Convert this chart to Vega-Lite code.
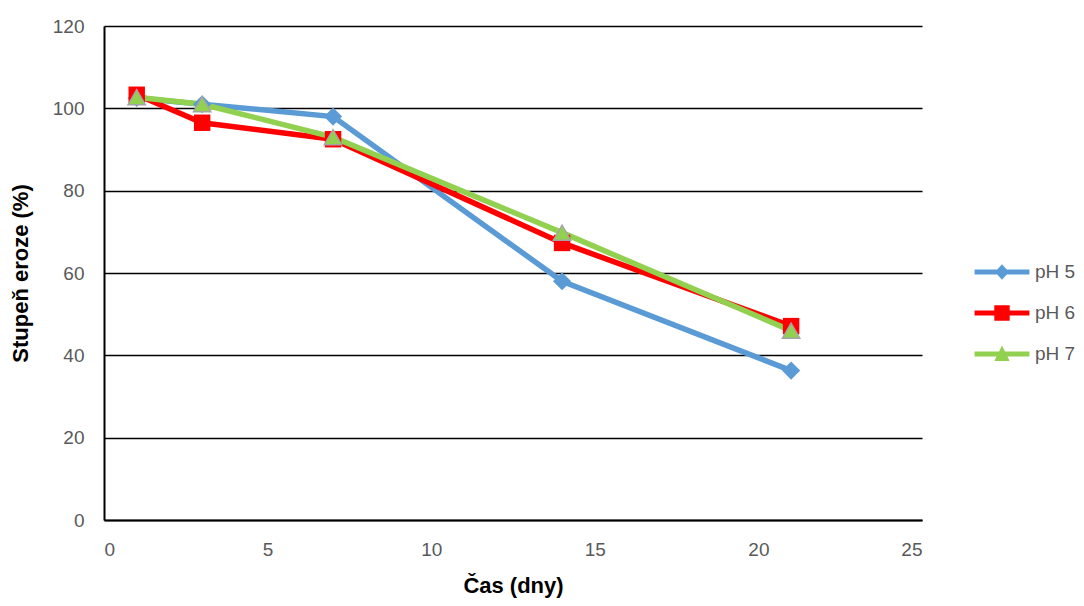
{
  "$schema": "https://vega.github.io/schema/vega-lite/v6.json",
  "width": 818,
  "height": 494,
  "autosize": {"type": "none"},
  "padding": {"left": 104, "top": 26, "right": 162, "bottom": 86},
  "background": "white",
  "config": {
    "view": {"stroke": null},
    "font": "Liberation Sans"
  },
  "data": {
    "values": [
      {"cas": 1, "stupen": 102.5, "pH": "pH 5"},
      {"cas": 3, "stupen": 101, "pH": "pH 5"},
      {"cas": 7, "stupen": 98, "pH": "pH 5"},
      {"cas": 14, "stupen": 58, "pH": "pH 5"},
      {"cas": 21, "stupen": 36.3, "pH": "pH 5"},
      {"cas": 1, "stupen": 103.3, "pH": "pH 6"},
      {"cas": 3, "stupen": 96.5, "pH": "pH 6"},
      {"cas": 7, "stupen": 92.5, "pH": "pH 6"},
      {"cas": 14, "stupen": 67.3, "pH": "pH 6"},
      {"cas": 21, "stupen": 47.1, "pH": "pH 6"},
      {"cas": 1, "stupen": 102.7, "pH": "pH 7"},
      {"cas": 3, "stupen": 101, "pH": "pH 7"},
      {"cas": 7, "stupen": 93, "pH": "pH 7"},
      {"cas": 14, "stupen": 69.8, "pH": "pH 7"},
      {"cas": 21, "stupen": 46, "pH": "pH 7"}
    ]
  },
  "encoding": {
    "x": {
      "field": "cas", "type": "quantitative",
      "scale": {"domain": [0, 25], "nice": false},
      "axis": {
        "title": "Čas (dny)", "values": [0, 5, 10, 15, 20, 25],
        "grid": false, "ticks": false, "domainColor": "black", "domainWidth": 2,
        "labelColor": "#595959", "labelFontSize": 19, "labelPadding": 20,
        "titleFontSize": 22, "titleFontWeight": "bold", "titleColor": "black", "titlePadding": 16
      }
    },
    "y": {
      "field": "stupen", "type": "quantitative",
      "scale": {"domain": [0, 120], "nice": false},
      "axis": {
        "title": "Stupeň eroze (%)", "values": [0, 20, 40, 60, 80, 100, 120],
        "grid": true, "gridColor": "black", "gridWidth": 1.5, "ticks": false,
        "domainColor": "black", "domainWidth": 2,
        "labelColor": "#595959", "labelFontSize": 19, "labelPadding": 20,
        "titleFontSize": 22, "titleFontWeight": "bold", "titleColor": "black", "titlePadding": 20
      }
    }
  },
  "layer": [
    {
      "mark": {"type": "line", "strokeWidth": 5.5},
      "encoding": {
        "color": {
          "field": "pH", "type": "nominal",
          "scale": {"domain": ["pH 5", "pH 6", "pH 7"], "range": ["#5B9BD5", "#FF0000", "#92D050"]},
          "legend": {
            "title": null, "orient": "none", "legendX": 884, "legendY": 232, "padding": 0,
            "symbolSize": 784, "symbolStrokeWidth": 0,
            "labelFontSize": 19, "labelColor": "#595959", "rowPadding": 17, "labelOffset": 19,
            "encode": {
              "symbols": {
                "update": {
                  "shape": {"signal": "datum.value === 'pH 5' ? 'M-1.96,-0.18L1.96,-0.18L1.96,0.18L-1.96,0.18Z M0,-0.55L0.5,0L0,0.55L-0.5,0Z' : datum.value === 'pH 6' ? 'M-1.96,-0.18L1.96,-0.18L1.96,0.18L-1.96,0.18Z M-0.55,-0.55L0.55,-0.55L0.55,0.55L-0.55,0.55Z' : 'M-1.96,-0.18L1.96,-0.18L1.96,0.18L-1.96,0.18Z M0,-0.6L0.55,0.5L-0.55,0.5Z'"},
                  "fill": {"signal": "datum.value === 'pH 5' ? '#5B9BD5' : datum.value === 'pH 6' ? '#FF0000' : '#92D050'"},
                  "stroke": {"value": "transparent"},
                  "strokeWidth": {"value": 0},
                  "opacity": {"value": 1}
                }
              }
            }
          }
        }
      }
    },
    {
      "transform": [{"filter": "datum.pH === 'pH 5'"}],
      "mark": {"type": "point", "shape": "diamond", "filled": true, "size": 330, "opacity": 1, "color": "#5B9BD5"}
    },
    {
      "transform": [{"filter": "datum.pH === 'pH 6'"}],
      "mark": {"type": "point", "shape": "square", "filled": true, "size": 270, "opacity": 1, "color": "#FF0000"}
    },
    {
      "transform": [{"filter": "datum.pH === 'pH 7'"}],
      "mark": {"type": "point", "shape": "triangle-up", "filled": true, "size": 300, "opacity": 1, "fill": "#92D050", "stroke": "#A5A5A5", "strokeWidth": 1.5}
    }
  ]
}
